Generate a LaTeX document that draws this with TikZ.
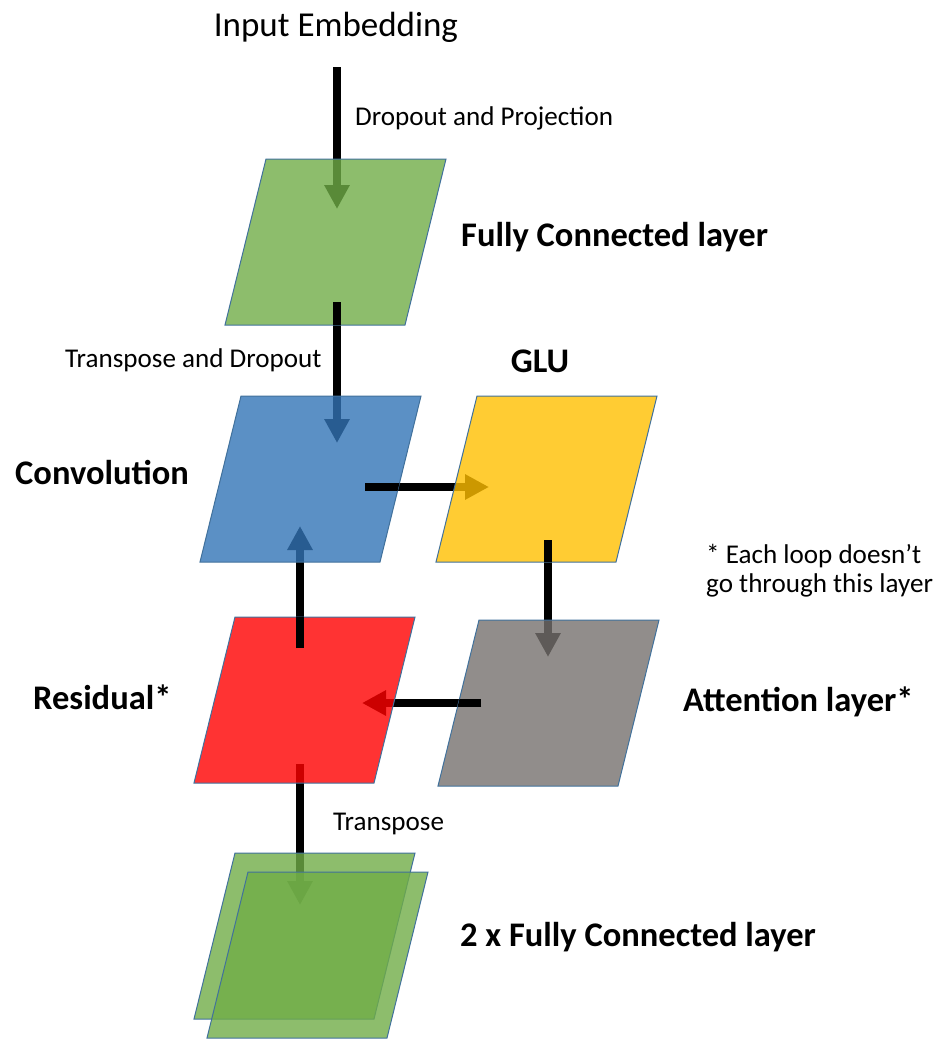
\documentclass[tikz,border=0pt]{standalone}
\usepackage{fontspec}
\setmainfont{Carlito}
\usetikzlibrary{arrows.meta}

\definecolor{fcgreen}{RGB}{112,173,71}
\definecolor{convblue}{RGB}{50,116,182}
\definecolor{gluyellow}{RGB}{255,191,0}
\definecolor{resred}{RGB}{255,0,0}
\definecolor{attgrey}{RGB}{118,113,110}
\definecolor{edgeblue}{RGB}{65,113,156}

% parallelogram layer with its top-left corner at (#1,#2)
\newcommand\pgram[2]{(#1,#2) -- ++(180,0) -- ++(-41,166) -- ++(-180,0) -- cycle}

\begin{document}
\begin{tikzpicture}[x=1pt,y=-1pt,
  flow/.style={line width=7.5pt,-{Triangle[length=24pt,width=24pt]}},
  shaft/.style={line width=7.5pt},
  layerbox/.style={fill opacity=0.8,draw=edgeblue,line width=1pt},
  lbl/.style={anchor=base west,inner sep=0pt,font=\fontsize{27.1}{32}\selectfont},
  blbl/.style={anchor=base west,inner sep=0pt,font=\fontsize{34.5}{41}\selectfont\bfseries}]

\useasboundingbox (0,0) rectangle (939,1039);

% arrow end points
\coordinate (in-top)   at (337,67);
\coordinate (fc-in)    at (337,209);
\coordinate (fc-out)   at (337,302);
\coordinate (conv-in)  at (337,443);
\coordinate (conv-out) at (365,487);
\coordinate (glu-in)   at (489,487);
\coordinate (glu-out)  at (548,540);
\coordinate (att-in)   at (548,657);
\coordinate (att-out)  at (481,703);
\coordinate (res-in)   at (362,703);
\coordinate (res-up)   at (300,648);
\coordinate (conv-up)  at (300,526);
\coordinate (res-down) at (300,764);
\coordinate (out-in)   at (300,905);

% connectors (under the layers)
\draw[flow] (in-top) -- (fc-in);
\draw[flow] (fc-out) -- (conv-in);
\draw[flow] (conv-out) -- (glu-in);
\draw[flow] (glu-out) -- (att-in);
\draw[flow] (att-out) -- (res-in);
\draw[flow] (res-up) -- (conv-up);
\draw[flow] (res-down) -- (out-in);

% layers
\path[layerbox,fill=fcgreen]    \pgram{266}{159};
\path[layerbox,fill=convblue]   \pgram{241}{396};
\path[layerbox,fill=gluyellow]  \pgram{477}{396};
\path[layerbox,fill=resred]     \pgram{235}{617};
\path[layerbox,fill=attgrey]    \pgram{479}{620};
\path[layerbox,fill=fcgreen]    \pgram{235}{853};
\path[layerbox,fill=fcgreen]    \pgram{248}{872};

% connector tails lying on top of their source layers
\begin{scope}\clip \pgram{266}{159}; \draw[shaft] (fc-out) -- (conv-in); \end{scope}
\begin{scope}\clip \pgram{241}{396}; \draw[shaft] (conv-out) -- (glu-in); \end{scope}
\begin{scope}\clip \pgram{477}{396}; \draw[shaft] (glu-out) -- (att-in); \end{scope}
\begin{scope}\clip \pgram{479}{620}; \draw[shaft] (att-out) -- (res-in); \end{scope}
\begin{scope}\clip \pgram{235}{617}; \draw[shaft] (res-up) -- (conv-up); \end{scope}

% labels
\node[anchor=base,inner sep=0pt,font=\fontsize{35}{42}\selectfont] (title) at (336,36) {Input Embedding};
\node[lbl]  (t-proj)  at (355,125) {Dropout and Projection};
\node[blbl] (l-fc)    at (461,246) {Fully Connected layer};
\node[lbl]  (t-trd)   at (65,367)  {Transpose and Dropout};
\node[blbl,anchor=base] (l-glu) at (540,372) {GLU};
\node[blbl] (l-conv)  at (15,484)  {Convolution};
\node[lbl]  (n-1)     at (706,563) {* Each loop doesn’t};
\node[lbl]  (n-2)     at (706,592) {go through this layer};
\node[blbl] (l-res)   at (33,709)  {Residual*};
\node[blbl] (l-att)   at (683,711) {Attention layer*};
\node[lbl]  (t-tr)    at (333,830) {Transpose};
\node[blbl] (l-out)   at (460,946) {2 x Fully Connected layer};
\end{tikzpicture}
\end{document}
